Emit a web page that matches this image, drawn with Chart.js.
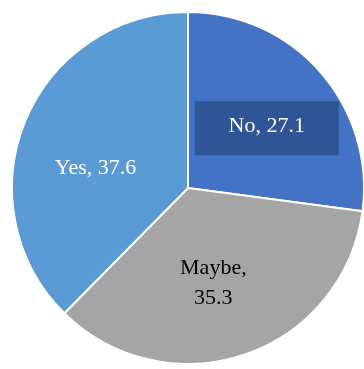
<!DOCTYPE html>
<html lang="en">

<head>
    <meta charset="UTF-8">
    <title>No / Maybe / Yes</title>
    <script src="https://cdn.jsdelivr.net/npm/chart.js"></script>
    <style>
        html, body {
            margin: 0;
            padding: 0;
            background: #ffffff;
            overflow: hidden;
            width: 364px;
            height: 369px;
        }

        .grafico {
            position: absolute;
            left: 0;
            top: 0;
        }
    </style>
</head>

<body>
    <div class="grafico">
        <canvas id="graficoPie" width="376" height="376"></canvas>
    </div>

    <script>
        const categorias = ['No', 'Maybe', 'Yes'];
        const valores = [27.1, 35.3, 37.6];
        const cores = ['#4472C4', '#A5A5A5', '#5B9BD5'];

        // small nudges for each label, in px (x, y)
        const ajusteRotulo = [[6, 4], [-6, 4], [-3, 17]];

        // labels drawn on top of each slice: "Name, value"
        const rotulosPie = {
            id: 'rotulosPie',
            afterDatasetsDraw(chart) {
                const ctx = chart.ctx;
                const arcs = chart.getDatasetMeta(0).data;
                ctx.save();
                ctx.font = '22px "Liberation Serif", "DejaVu Serif", serif';
                ctx.textAlign = 'center';
                ctx.textBaseline = 'middle';

                arcs.forEach(function (arc, i) {
                    const p = arc.getProps(['x', 'y', 'startAngle', 'endAngle', 'outerRadius'], true);
                    const meio = (p.startAngle + p.endAngle) / 2;
                    const r = p.outerRadius * 0.55;
                    const x = p.x + Math.cos(meio) * r + ajusteRotulo[i][0];
                    const y = p.y + Math.sin(meio) * r + ajusteRotulo[i][1];
                    const texto = categorias[i] + ', ' + valores[i].toFixed(1);

                    if (categorias[i] == 'No') {
                        // dark box behind the "No" label
                        ctx.fillStyle = '#2F5597';
                        ctx.fillRect(x - 72, y - 27, 144, 54);
                        ctx.fillStyle = '#ffffff';
                        ctx.fillText(texto, x, y - 2);
                    } else if (categorias[i] == 'Maybe') {
                        ctx.fillStyle = '#000000';
                        ctx.fillText(categorias[i] + ',', x, y - 15);
                        ctx.fillText(valores[i].toFixed(1), x, y + 15);
                    } else {
                        ctx.fillStyle = '#ffffff';
                        ctx.fillText(texto, x, y);
                    }
                });
                ctx.restore();
            }
        };

        new Chart(document.getElementById('graficoPie'), {
            type: 'pie',
            data: {
                labels: categorias,
                datasets: [{
                    label: 'Percent',
                    data: valores,
                    backgroundColor: cores,
                    borderColor: '#ffffff',
                    borderWidth: 2
                }]
            },
            options: {
                responsive: false,
                animation: false,
                layout: {
                    padding: 11
                },
                plugins: {
                    legend: { display: false },
                    tooltip: { enabled: false }
                }
            },
            plugins: [rotulosPie]
        });
    </script>
</body>

</html>
